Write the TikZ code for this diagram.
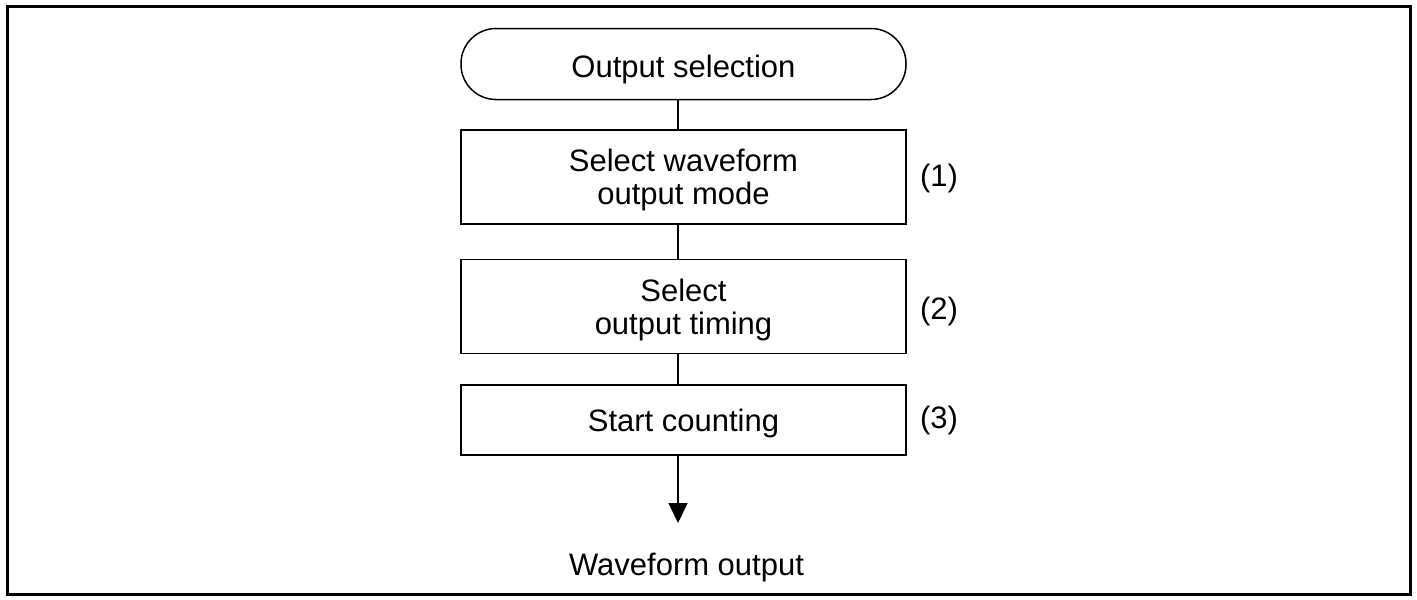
\documentclass[tikz,border=0pt]{standalone}
\usepackage{fontspec}
\setmainfont{Liberation Sans}
\usetikzlibrary{arrows.meta}
\begin{document}
\begin{tikzpicture}[x=1pt,y=-1pt,
  every node/.style={font=\fontsize{31}{33}\selectfont},
  box/.style={draw, line width=1.5pt, minimum width=445pt, inner sep=0pt, align=center},
  one/.style={text height=22.4pt, text depth=0pt},
  two/.style={text height=55.4pt, text depth=0pt},
  conn/.style={line width=1.5pt},
  lbl/.style={inner sep=0pt}]
\useasboundingbox (0,0) rectangle (1417,600);
\draw[line width=3pt] (7.5,6.5) rectangle (1410.5,594.5);
\node[box, text height=26.4pt, text depth=0pt, rounded corners=35pt, minimum height=71pt] (start) at (683.5,64) {Output selection};
\node[box, two, minimum height=94pt] (b1) at (683.5,177) {Select waveform\\output mode};
\node[box, two, minimum height=94pt] (b2) at (683.5,306.5) {Select\\output timing};
\node[box, one, minimum height=70pt] (b3) at (683.5,420) {Start counting};
\node[lbl] (l1) at (939,178) {(1)};
\node[lbl] (l2) at (939,311) {(2)};
\node[lbl] (l3) at (939,420) {(3)};
\node[lbl, one] (out) at (686.5,564) {Waveform output};
\coordinate (tip) at (678,523);
\draw[conn] ([xshift=-5.5pt]start.south) -- ([xshift=-5.5pt]b1.north);
\draw[conn] ([xshift=-5.5pt]b1.south) -- ([xshift=-5.5pt]b2.north);
\draw[conn] ([xshift=-5.5pt]b2.south) -- ([xshift=-5.5pt]b3.north);
\draw[conn, -{Triangle[length=20pt,width=19pt]}] ([xshift=-5.5pt]b3.south) -- (tip);
\end{tikzpicture}
\end{document}
